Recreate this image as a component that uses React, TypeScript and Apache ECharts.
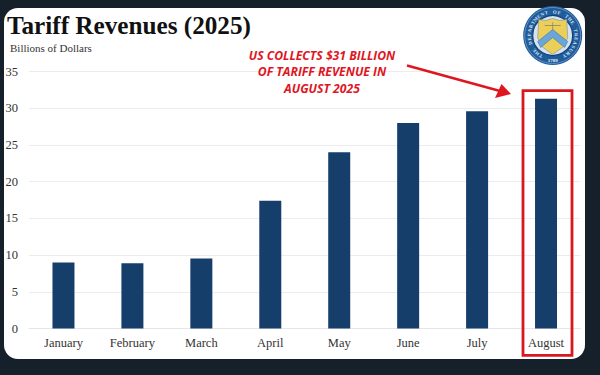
import React, { useEffect, useRef } from "react";
import * as echarts from "echarts";

const months = ["January", "February", "March", "April", "May", "June", "July", "August"];
const revenues = [9, 8.88, 9.55, 17.4, 24, 28, 29.6, 31.3];
const yTicks = { min: 0, max: 35, interval: 5 };
const titleText = "Tariff Revenues (2025)";
const subtitleText = "Billions of Dollars";
const annotationLines = ["US COLLECTS $31 BILLION", "OF TARIFF REVENUE IN", "AUGUST 2025"];
const sealText = "THE DEPARTMENT OF THE TREASURY";
const sealYear = "1789";

const SERIF = "'Liberation Serif', serif";
const RED = "#e0161f";

function sealGraphics(): any[] {
  const cx = 552.7, cy = 35.5;
  const letters = sealText.split("").map((ch, i) => {
    const a = (-150 + (i * 300) / (sealText.length - 1)) * (Math.PI / 180);
    const r = 23.5;
    return {
      type: "text", z: 11,
      x: cx + r * Math.sin(a), y: cy - r * Math.cos(a), rotation: -a,
      style: { text: ch, fill: "#dfe8f2", font: `bold 4.8px ${SERIF}`, textAlign: "center", textVerticalAlign: "middle" },
    };
  });
  const pts = (list: number[][]) => list.map(([x, y]) => [cx + x, cy + y]);
  return [
    { type: "circle", z: 10, shape: { cx, cy, r: 29.5 }, style: { fill: "#1f5c9c" } },
    { type: "circle", z: 10, shape: { cx, cy, r: 28 }, style: { fill: "none", stroke: "#7fa6cc", lineWidth: 0.7 } },
    { type: "circle", z: 10, shape: { cx, cy, r: 20 }, style: { fill: "#d6e3ef", stroke: "#123f75", lineWidth: 1.2 } },
    { type: "polygon", z: 11, shape: { points: pts([[-14, -16], [-7, -15], [0, -17], [7, -15], [14, -16], [15, 2], [11, 11], [0, 19], [-11, 11], [-15, 2]]) }, style: { fill: "#eccf58", stroke: "#6e8fa8", lineWidth: 0.6 } },
    { type: "polygon", z: 12, shape: { points: pts([[0, -6], [15, 6], [12, 12], [0, 2], [-12, 12], [-15, 6]]) }, style: { fill: "#6aa7d8", stroke: "#2c6aa3", lineWidth: 0.5 } },
    { type: "line", z: 12, shape: { x1: cx - 8, y1: cy - 10, x2: cx + 8, y2: cy - 10 }, style: { stroke: "#7b8a70", lineWidth: 0.8 } },
    { type: "line", z: 12, shape: { x1: cx, y1: cy - 13, x2: cx, y2: cy - 5 }, style: { stroke: "#7b8a70", lineWidth: 0.8 } },
    ...letters,
    { type: "text", z: 12, x: cx, y: cy + 24.5, style: { text: sealYear, fill: "#eef3f8", font: `bold 5px ${SERIF}`, textAlign: "center", textVerticalAlign: "middle" } },
  ];
}

export default function App() {
  const ref = useRef<HTMLDivElement>(null);
  useEffect(() => {
    document.body.style.margin = "0";
    const chart = echarts.init(ref.current!, null, { renderer: "svg" });
    chart.setOption({
      animation: false,
      backgroundColor: "#15202b",
      grid: { left: 29, right: 19.5, top: 71.5, bottom: 46.5, containLabel: false },
      xAxis: {
        type: "category",
        data: months,
        axisLine: { lineStyle: { color: "#e6e6e6", width: 1 } },
        axisTick: { show: false },
        axisLabel: { color: "#333", fontFamily: SERIF, fontSize: 12.5, margin: 8 },
      },
      yAxis: {
        type: "value",
        min: yTicks.min,
        max: yTicks.max,
        interval: yTicks.interval,
        axisLine: { show: false },
        axisTick: { show: false },
        axisLabel: { color: "#333", fontFamily: SERIF, fontSize: 12.5, margin: 11 },
        splitLine: { lineStyle: { color: "#ececec", width: 1 } },
      },
      series: [
        {
          type: "bar",
          data: revenues,
          barWidth: 22,
          itemStyle: { color: "#153e6b" },
          z: 5,
        },
      ],
      graphic: [
        { type: "rect", z: -10, silent: true, shape: { x: 4, y: 8, width: 581, height: 351, r: 14 }, style: { fill: "#ffffff" } },
        { type: "text", z: 10, x: 7, y: 25, style: { text: titleText, fill: "#111", font: `bold 25.2px ${SERIF}`, textVerticalAlign: "middle" } },
        { type: "text", z: 10, x: 10, y: 48, style: { text: subtitleText, fill: "#333", font: `11px ${SERIF}`, textVerticalAlign: "middle" } },
        ...annotationLines.map((t, i) => ({
          type: "text", z: 10, x: 322, y: 55 + i * 16.5,
          style: { text: t, fill: RED, font: "italic bold 12.2px 'Open Sans', sans-serif", textAlign: "center", textVerticalAlign: "middle" },
        })),
        { type: "line", z: 10, shape: { x1: 407, y1: 65.5, x2: 500, y2: 91 }, style: { stroke: RED, lineWidth: 2.4 } },
        { type: "polygon", z: 10, shape: { points: [[511, 94], [501.5, 84], [495, 98]] }, style: { fill: RED } },
        { type: "rect", z: 10, shape: { x: 523, y: 90.7, width: 49, height: 264.6 }, style: { fill: "none", stroke: "#d8181f", lineWidth: 2.8 } },
        ...sealGraphics(),
      ],
    });
    return () => chart.dispose();
  }, []);
  return <div ref={ref} style={{ position: "absolute", left: 0, top: 0, width: 600, height: 375 }} />;
}
